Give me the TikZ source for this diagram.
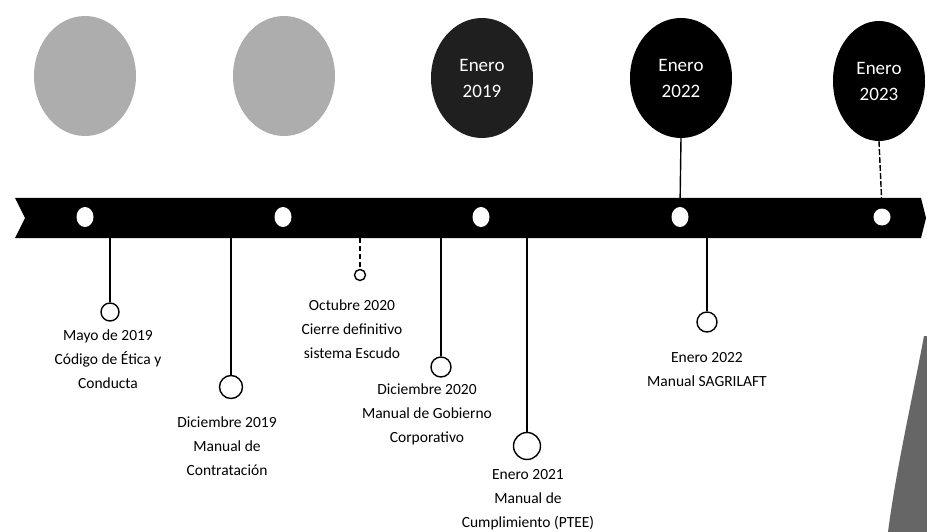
\documentclass[tikz,border=0pt]{standalone}
\usepackage{fontspec}
\setmainfont{Carlito}
\usetikzlibrary{shapes.geometric}
\begin{document}
\begin{tikzpicture}[x=1pt,y=-1pt,
  topcirc/.style={ellipse, minimum width=102pt, minimum height=120pt, inner sep=0pt, fill=black, text=white, align=center, font=\fontsize{19}{26}\selectfont},
  photo/.style={topcirc, fill=black!32},
  bandot/.style={ellipse, fill=white, minimum width=17pt, minimum height=20pt, inner sep=0pt},
  evdot/.style={circle, draw=black, line width=1.4pt, fill=white, inner sep=0pt},
  evlabel/.style={align=center, font=\fontsize{15.5}{24}\selectfont},
  stem/.style={line width=1.4pt},
]
\useasboundingbox (0,0) rectangle (927,532);
% band
\fill[black] (15,198) -- (921,198) -- (926,218) -- (921,238) -- (15,238) -- (25,218) -- cycle;
% band dots
\node[bandot] (d1) at (85,217) {};
\node[bandot] (d2) at (283,217) {};
\node[bandot] (d3) at (481,217) {};
\node[bandot] (d4) at (680,217) {};
\node[bandot, minimum width=17pt, minimum height=17pt] (d5) at (882,217) {};
% top circles
\node[photo] (c1) at (85,76) {};
\node[photo] (c2) at (284,76) {};
\node[topcirc, fill=black!88] (c3) at (482,78) {Enero\\2019};
\node[topcirc] (c4) at (681,78) {Enero\\2022};
\node[topcirc, minimum width=92pt] (c5) at (879,81) {Enero\\2023};
\draw[stem] (c4.south) -- (d4.north);
\draw[stem, dash pattern=on 6pt off 2pt] (c5.south) -- (d5.north);
% bottom stems
\coordinate (b1) at (110,238);
\coordinate (b2) at (231,238);
\coordinate (b3) at (360,238);
\coordinate (b4) at (441,238);
\coordinate (b5) at (527,238);
\coordinate (b6) at (707,238);
\node[evdot, minimum size=18pt] (e1) at (110,312) {};
\node[evdot, minimum size=23pt] (e2) at (231,387) {};
\node[evdot, minimum size=11pt] (e3) at (360,275) {};
\node[evdot, minimum size=20pt] (e4) at (441,367) {};
\node[evdot, minimum size=27pt] (e5) at (527,446) {};
\node[evdot, minimum size=20pt] (e6) at (707,322) {};
\draw[stem] (b1) -- (e1.north);
\draw[stem, line width=2.6pt] (b2) -- (e2.north);
\draw[stem, dash pattern=on 5pt off 3pt] (b3) -- (e3.north);
\draw[stem] (b4) -- (e4.north);
\draw[stem] (b5) -- (e5.north);
\draw[stem] (b6) -- (e6.north);
% labels
\node[evlabel] (l1) at (108,359) {Mayo de 2019\\Código de Ética y\\Conducta};
\node[evlabel] (l2) at (227,446) {Diciembre 2019\\Manual de\\Contratación};
\node[evlabel] (l3) at (352,329) {Octubre 2020\\Cierre definitivo\\sistema Escudo};
\node[evlabel] (l4) at (427,414) {Diciembre 2020\\Manual de Gobierno\\Corporativo};
\node[evlabel] (l5) at (528,500) {Enero 2021\\Manual de\\Cumplimiento (PTEE)};
\node[evlabel] (l6) at (707,370) {Enero 2022\\Manual SAGRILAFT};
% bottom-right shape
\fill[black!60] (924,336) .. controls (912,400) and (896,470) .. (888,532) -- (927,532) -- (927,336) -- cycle;
\end{tikzpicture}
\end{document}
